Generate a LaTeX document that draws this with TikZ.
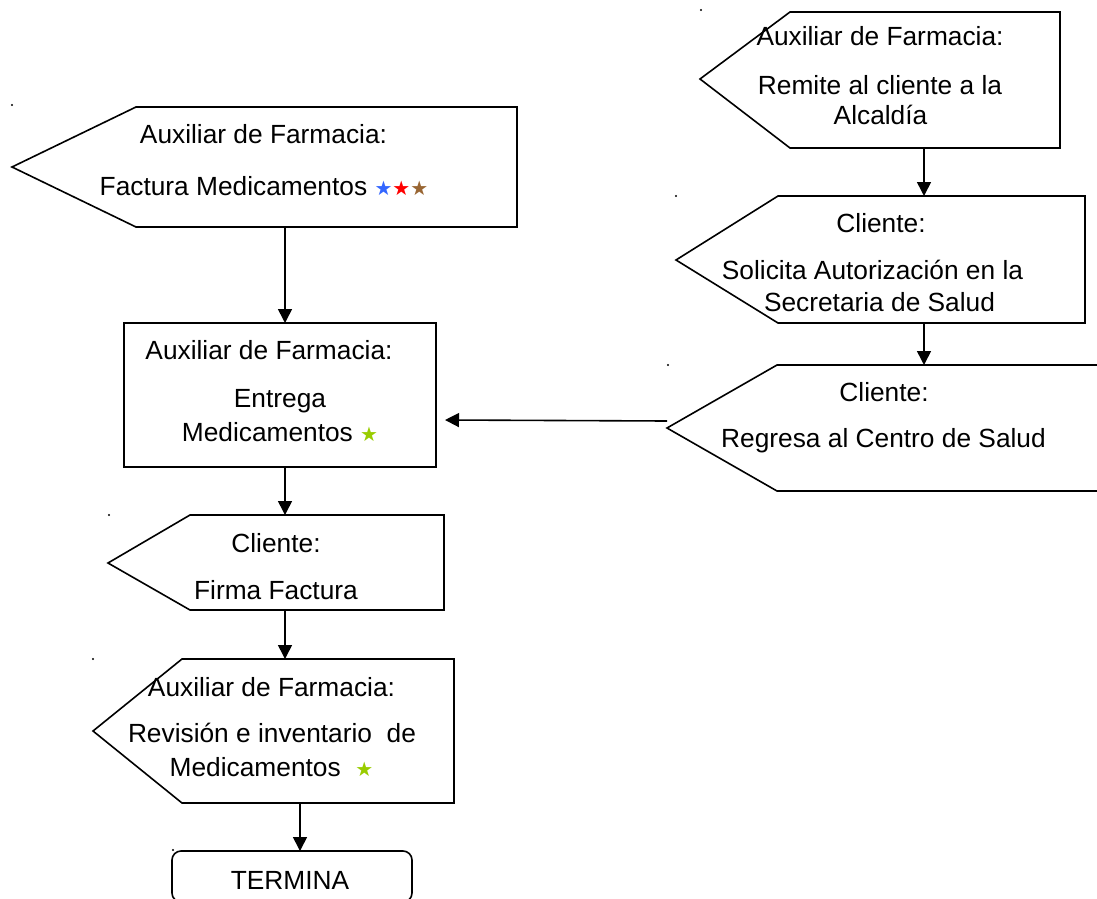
\documentclass[tikz,border=0pt]{standalone}
\usepackage{fontspec}
\setmainfont{Liberation Sans}
\newfontfamily\starfont{DejaVu Sans}
\usetikzlibrary{arrows.meta}
\definecolor{starblue}{HTML}{3366FF}
\definecolor{starred}{HTML}{FF0000}
\definecolor{starbrown}{HTML}{996633}
\definecolor{stargreen}{HTML}{99CC00}
% a small coloured star set in DejaVu Sans
\newcommand\colstar[1]{{\starfont\fontsize{20}{20}\selectfont\color{#1}★}}
% outline of a pentagon: rectangle body of node #1 plus a left tip at #2
\newcommand\pentagon[2]{\draw[outline] (#1.north west) -- (#1.north east) -- (#1.south east) -- (#1.south west) -- (#2) -- cycle;}

\begin{document}
\begin{tikzpicture}[x=1pt,y=-1pt,
  outline/.style={draw=black,line width=1.6pt,line join=miter},
  body/.style 2 args={inner sep=0pt,outer sep=0pt,minimum width=#1,minimum height=#2},
  txt/.style={anchor=base,inner sep=0pt,font=\fontsize{26.3}{31}\selectfont},
  flow/.style={-{Triangle[length=14pt,width=14pt]},line width=1.6pt},
  speck/.style={fill=black}]

\clip (0,0) rectangle (1097,899);

% bodies of the process shapes
\node[body={381pt}{120pt}] (fac) at (326.5,167) {};
\node[body={312pt}{144pt},outline] (ent) at (280,395) {};
\node[body={254pt}{95pt}] (fir) at (317,562.5) {};
\node[body={272pt}{144pt}] (rev) at (318,731) {};
\node[body={240pt}{51pt},outline,rounded corners=9pt] (ter) at (292,876.5) {};
\node[body={270pt}{136pt}] (rem) at (925,80) {};
\node[body={307pt}{127pt}] (sol) at (931.5,259.5) {};
\node[body={343pt}{126pt}] (reg) at (948.5,428) {};

% tips of the pointed shapes
\coordinate (fac-tip) at (12,167);
\coordinate (fir-tip) at (108,563);
\coordinate (rev-tip) at (93,731);
\coordinate (rem-tip) at (700,79);
\coordinate (sol-tip) at (676,260);
\coordinate (reg-tip) at (667,428);

\pentagon{fac}{fac-tip}
\pentagon{fir}{fir-tip}
\pentagon{rev}{rev-tip}
\pentagon{rem}{rem-tip}
\pentagon{sol}{sol-tip}
\pentagon{reg}{reg-tip}

% small marks beside the shapes
\fill[speck] (12,105) circle (1.1pt);
\fill[speck] (701,10) circle (1.1pt);
\fill[speck] (676,196) circle (1.1pt);
\fill[speck] (668,365) circle (1.1pt);
\fill[speck] (109,515) circle (1.1pt);
\fill[speck] (93,659) circle (1.1pt);
\fill[speck] (173,850) circle (1.1pt);

% texts
\node[txt] (fac-a) at (263.5,143.5) {Auxiliar de Farmacia:};
\node[txt] (fac-b) at (264,195.5) {Factura Medicamentos \colstar{starblue}\colstar{starred}\colstar{starbrown}};

\node[txt] (ent-a) at (269,359.5) {Auxiliar de Farmacia:};
\node[txt] (ent-b) at (280,407.5) {Entrega};
\node[txt] (ent-c) at (280,441.5) {Medicamentos \colstar{stargreen}};

\node[txt] (fir-a) at (276,552.5) {Cliente:};
\node[txt] (fir-b) at (276,599.5) {Firma Factura};

\node[txt] (rev-a) at (271.5,696.5) {Auxiliar de Farmacia:};
\node[txt] (rev-b) at (272,742.5) {Revisión e inventario~ de};
\node[txt] (rev-c) at (271.5,776.5) {Medicamentos~ \colstar{stargreen}};

\node[txt] (ter-a) at (290,889.5) {TERMINA};

\node[txt] (rem-a) at (880,45.5) {Auxiliar de Farmacia:};
\node[txt] (rem-b) at (880,94.5) {Remite al cliente a la};
\node[txt] (rem-c) at (880.5,124.5) {Alcaldía};

\node[txt] (sol-a) at (881,232.5) {Cliente:};
\node[txt] (sol-b) at (872.5,279.5) {Solicita Autorización en la};
\node[txt] (sol-c) at (879.5,311.5) {Secretaria de Salud};

\node[txt] (reg-a) at (884,401.5) {Cliente:};
\node[txt] (reg-b) at (883.5,447.5) {Regresa al Centro de Salud};

% connector columns
\coordinate (lx) at (285,0);
\coordinate (tx) at (300,0);
\coordinate (rx) at (924,0);

\draw[flow] (fac.south -| lx) -- (ent.north -| lx);
\draw[flow] (ent.south -| lx) -- (fir.north -| lx);
\draw[flow] (fir.south -| lx) -- (rev.north -| lx);
\draw[flow] (rev.south -| tx) -- (ter.north -| tx);
\draw[flow] (rem.south -| rx) -- (sol.north -| rx);
\draw[flow] (sol.south -| rx) -- (reg.north -| rx);
\draw[flow] ([yshift=7pt]reg-tip) -- ([xshift=9pt,yshift=-25pt]ent.east);

\end{tikzpicture}
\end{document}
